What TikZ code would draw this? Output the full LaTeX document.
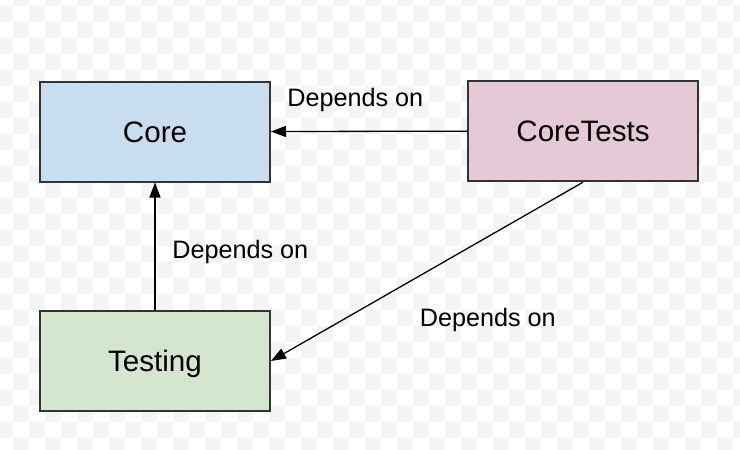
\documentclass[tikz,border=0pt]{standalone}
\usepackage{fontspec}
\setmainfont{Liberation Sans}
\usetikzlibrary{arrows.meta}
\definecolor{coreblue}{HTML}{C9DDF0}
\definecolor{testgreen}{HTML}{D4E6CE}
\definecolor{ctpink}{HTML}{E6C9D6}
\definecolor{boxline}{HTML}{333333}
\definecolor{checker}{HTML}{F4F4F4}
\tikzset{
  box/.style={draw=boxline, line width=1pt, minimum width=115pt, minimum height=50pt,
    inner sep=0pt, font=\fontsize{14.8pt}{17pt}\selectfont, text height=10.6pt, text depth=0pt},
  dep/.style={line width=0.65pt, draw=black, -{Triangle[length=7.5pt,width=5.5pt]}},
  deplabel/.style={anchor=base west, inner sep=0pt, font=\fontsize{12.6pt}{15pt}\selectfont}
}
\begin{document}
\begin{tikzpicture}[x=0.5pt,y=-0.5pt]
\useasboundingbox (0,0) rectangle (740,450);
\fill[white] (0,0) rectangle (740,450);
\begin{scope}
\clip (0,0) rectangle (740,450);
\foreach \i in {-1,...,45}{
  \foreach \j in {0,...,28}{
    \pgfmathtruncatemacro\cellpar{mod(\i+\j+100,2)}
    \ifnum\cellpar=0
      \fill[checker] ({13.33+16*\i},{-10+16*\j}) rectangle ++(16,16);
    \fi
  }
}
\end{scope}
\node[box, fill=coreblue] (core) at (155,131.5) {Core};
\node[box, fill=ctpink] (ct) at (583,131.2) {CoreTests};
\node[box, fill=testgreen] (test) at (155,361) {Testing};
\draw[dep] (ct.west) -- (core.east);
\draw[dep] (test.north) -- (core.south);
\draw[dep] (ct.south) -- (test.east);
\node[deplabel] (l1) at (287,106) {Depends on};
\node[deplabel] (l2) at (172,258.3) {Depends on};
\node[deplabel] (l3) at (419.5,326) {Depends on};
\end{tikzpicture}
\end{document}
